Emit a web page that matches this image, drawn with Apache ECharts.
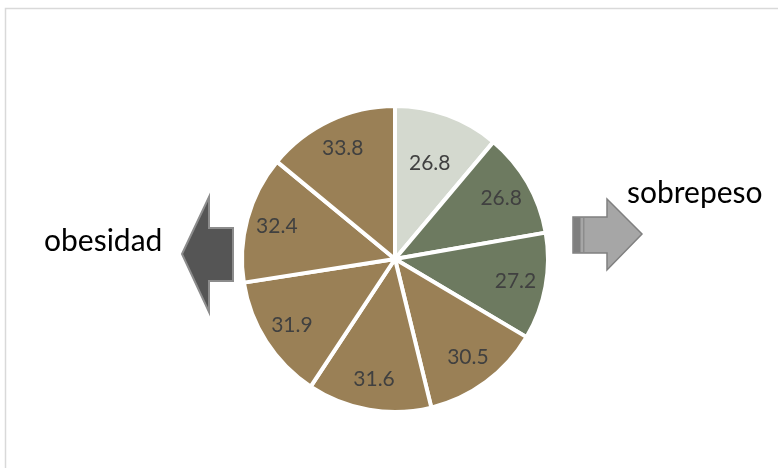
<!DOCTYPE html>
<html>
<head>
<meta charset="utf-8">
<script src="https://cdn.jsdelivr.net/npm/echarts@6/dist/echarts.min.js"></script>
<style>
  html, body { margin: 0; padding: 0; background: #fff; }
  #chart { width: 778px; height: 468px; }
</style>
</head>
<body>
<div id="chart"></div>
<script>
// Slice values, clockwise from 12 o'clock
const values = [26.8, 26.8, 27.2, 30.5, 31.6, 31.9, 32.4, 33.8];
// Colour group of each slice
const groups = ['light', 'green', 'green', 'brown', 'brown', 'brown', 'brown', 'brown'];
const groupColors = { light: '#D4D9CF', green: '#6D7A60', brown: '#9A8056' };
// Side captions
const leftCaption = 'obesidad';
const rightCaption = 'sobrepeso';

const FONT = 'Lato, "Open Sans", sans-serif';
const center = [395, 259];
const outerR = 153;

const sliceData = values.map((v, i) => ({
  value: v,
  name: String(i),
  itemStyle: { color: groupColors[groups[i]] }
}));

// label rings: the first slice's value sits closer to the centre
const labelStyle = {
  show: true,
  position: 'inside',
  formatter: p => p.value.toFixed(1),
  color: '#404040',
  fontFamily: FONT,
  fontSize: 21
};
const ringData = (pick) => values.map((v, i) => ({
  value: v,
  name: String(i),
  label: { show: pick(i) }
}));

function labelRing(inner, pick) {
  return {
    type: 'pie',
    center: center,
    radius: [inner, outerR],
    startAngle: 90,
    clockwise: true,
    silent: true,
    avoidLabelOverlap: false,
    itemStyle: { color: 'rgba(0,0,0,0)', borderWidth: 0 },
    label: labelStyle,
    labelLine: { show: false },
    data: ringData(pick)
  };
}

const chart = echarts.init(document.getElementById('chart'), null, { renderer: 'canvas' });
chart.setOption({
  animation: false,
  backgroundColor: '#ffffff',
  series: [
    {
      type: 'pie',
      center: center,
      radius: [0, outerR],
      startAngle: 90,
      clockwise: true,
      silent: true,
      avoidLabelOverlap: false,
      label: { show: false },
      labelLine: { show: false },
      itemStyle: { borderColor: '#ffffff', borderWidth: 4 },
      data: sliceData
    },
    labelRing(86, i => i > 0),
    labelRing(44, i => i === 0)
  ],
  graphic: [
    {
      type: 'rect',
      shape: { x: 5.5, y: 8.5, width: 820, height: 520 },
      style: { fill: 'none', stroke: '#D9D9D9', lineWidth: 1.5 },
      silent: true
    },
    {
      // left arrow
      type: 'polygon',
      shape: { points: [[182, 254], [209, 197], [209, 228], [233, 228], [233, 281], [209, 281], [209, 312]] },
      style: { fill: '#555555', stroke: '#8C8C8C', lineWidth: 2 },
      silent: true
    },
    {
      // right arrow
      type: 'polygon',
      shape: { points: [[573, 217], [607, 217], [607, 199], [642, 234], [607, 270], [607, 253], [573, 253]] },
      style: { fill: '#A6A6A6', stroke: '#808080', lineWidth: 1.5 },
      silent: true
    },
    {
      type: 'rect',
      shape: { x: 573.5, y: 217.5, width: 7, height: 35 },
      style: { fill: '#7F7F7F' },
      silent: true
    },
    {
      type: 'rect',
      shape: { x: 583, y: 218, width: 1.5, height: 34 },
      style: { fill: '#8C8C8C' },
      silent: true
    },
    {
      type: 'text',
      left: 44,
      top: 226,
      style: { text: leftCaption, fill: '#000000', font: '30px ' + FONT },
      silent: true
    },
    {
      type: 'text',
      left: 627,
      top: 178,
      style: { text: rightCaption, fill: '#000000', font: '30px ' + FONT },
      silent: true
    }
  ]
});
</script>
</body>
</html>
